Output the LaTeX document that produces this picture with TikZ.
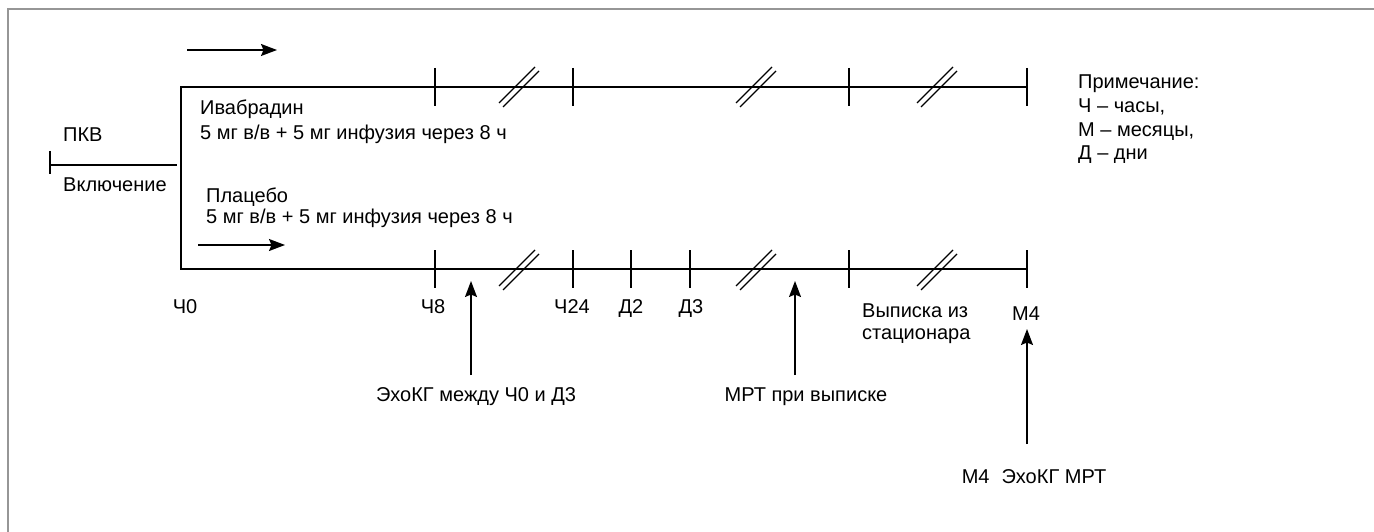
\documentclass[tikz,border=0pt]{standalone}
\usepackage{fontspec}
\setmainfont{Liberation Sans}
\usetikzlibrary{arrows.meta}
\definecolor{framegray}{RGB}{150,150,150}
\tikzset{
      frame/.style={draw=framegray, line width=1.5pt},
      axis/.style={draw=black, line width=1.8pt},
      tickline/.style={draw=black, line width=1.8pt},
      arr/.style={draw=black, line width=1.4pt, -{Stealth[length=16pt, width=12pt, inset=2.5pt]}},
      lbl/.style={font=\fontsize{20}{24}\selectfont, inner sep=0pt, anchor=base west},
      lblc/.style={font=\fontsize{20}{24}\selectfont, inner sep=0pt, anchor=base},
      brk/.pic={
            \draw[line width=1.3pt] (-20,16) -- (16,-20);
            \draw[line width=1.3pt] (-16,20) -- (20,-16);
      },
}
\begin{document}
\begin{tikzpicture}[x=1pt,y=-1pt]
        \useasboundingbox (0,0) rectangle (1374,532);
        \draw[frame] (8,532) -- (8,9) -- (1374,9);

        % Draw the two arms
        \coordinate (top0) at (181,87);
        \coordinate (bot0) at (181,269);
        \coordinate (topE) at (1027,87);
        \coordinate (botE) at (1027,269);
        \draw[axis] (topE) -- (top0) -- (bot0) -- (botE);

        \foreach \x in {435,573,849,1027} \draw[tickline] (\x,68) -- (\x,106);
        \foreach \x in {435,573,631,690,849,1027} \draw[tickline] (\x,250) -- (\x,288);
        \foreach \x in {519,756,937} {
              \pic at (\x,87) {brk};
              \pic at (\x,270) {brk};
        }

        % Start
        \coordinate (pkvA) at (50,165);
        \coordinate (pkvB) at (177,165);
        \draw[axis] (pkvA) -- (pkvB);
        \draw[tickline] (50,151) -- (50,174);
        \node[lbl] (pkv) at (63,142) {ПКВ};
        \node[lbl] (incl) at (63,191) {Включение};

        \coordinate (dirA1) at (187,50);
        \coordinate (dirB1) at (277,50);
        \draw[arr] (dirA1) -- (dirB1);
        \coordinate (dirA2) at (198,245);
        \coordinate (dirB2) at (285,245);
        \draw[arr] (dirA2) -- (dirB2);

        \node[lbl] (iva) at (200,115) {Ивабрадин};
        \node[lbl] (ivadose) at (200,140) {5 мг в/в + 5 мг инфузия через 8 ч};
        \node[lbl] (plac) at (206,202) {Плацебо};
        \node[lbl] (placdose) at (206,223) {5 мг в/в + 5 мг инфузия через 8 ч};

        % Time points
        \node[lblc] (h0) at (185,313) {Ч0};
        \node[lblc] (h8) at (433,313) {Ч8};
        \node[lblc] (h24) at (572,313) {Ч24};
        \node[lblc] (d2) at (631,313) {Д2};
        \node[lblc] (d3) at (691,313) {Д3};
        \node[lbl] (disch) at (862,317) {Выписка из};
        \node[lbl] (disch2) at (862,339) {стационара};
        \node[lblc] (m4) at (1026,320) {М4};

        % Examinations
        \node[lblc] (echo) at (476,401) {ЭхоКГ между Ч0 и Д3};
        \coordinate (echoTail) at (471,375);
        \coordinate (echoTip) at (471,281);
        \draw[arr] (echoTail) -- (echoTip);

        \node[lblc] (mrt) at (806,401) {МРТ при выписке};
        \coordinate (mrtTail) at (795,375);
        \coordinate (mrtTip) at (795,281);
        \draw[arr] (mrtTail) -- (mrtTip);

        \node[lblc] (m4exam) at (1034,483) {М4\hspace{0.6em}ЭхоКГ МРТ};
        \coordinate (m4Tail) at (1027,444);
        \coordinate (m4Tip) at (1027,329);
        \draw[arr] (m4Tail) -- (m4Tip);

        % Legend
        \node[lbl] (note) at (1078,89) {Примечание:};
        \node[lbl] (noteH) at (1078,113) {Ч – часы,};
        \node[lbl] (noteM) at (1078,137) {М – месяцы,};
        \node[lbl] (noteD) at (1078,160) {Д – дни};

\end{tikzpicture}
\end{document}
